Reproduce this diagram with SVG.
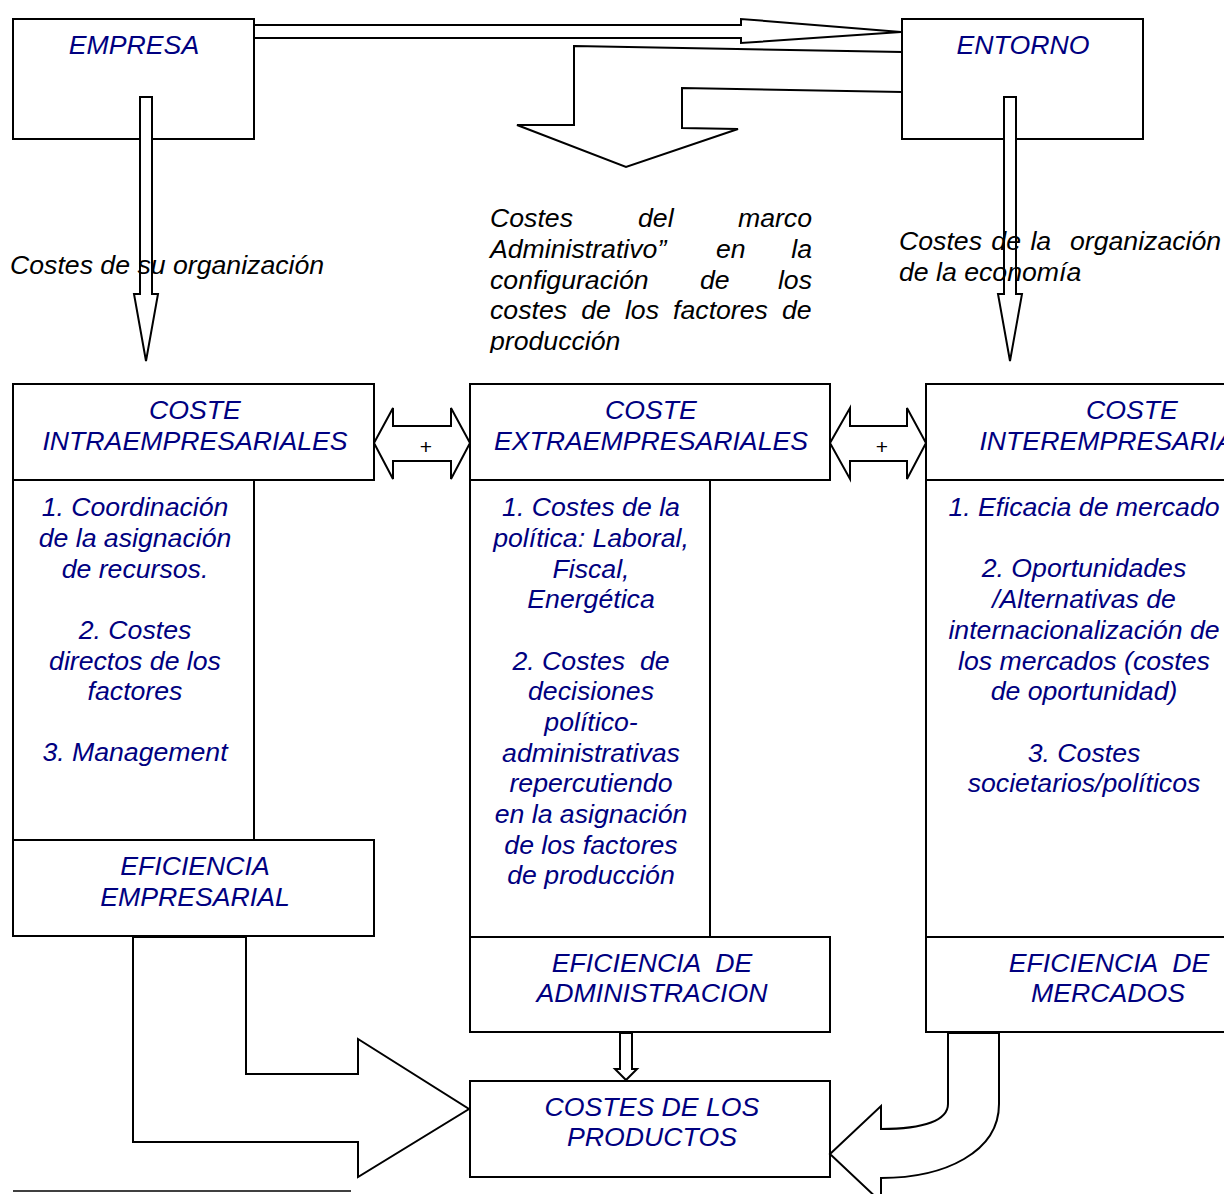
<svg xmlns="http://www.w3.org/2000/svg" width="1224" height="1194" viewBox="0 0 1224 1194">
<style>
.box{fill:#fff;stroke:#000;stroke-width:2}
.ln{fill:none;stroke:#000;stroke-width:2}
.arr{fill:#fff;stroke:#000;stroke-width:2;stroke-linejoin:miter}
.t{font-family:"Liberation Sans",Arial,sans-serif;font-style:italic;font-size:26.67px;fill:#000080;text-anchor:middle}
.k{font-family:"Liberation Sans",Arial,sans-serif;font-style:italic;font-size:26.67px;fill:#000}
.p{font-family:"Liberation Sans",Arial,sans-serif;font-size:21px;fill:#000;text-anchor:middle}
</style>
<defs>
<clipPath id="cl"><rect x="0" y="0" width="1224" height="353"/></clipPath>
</defs>
<rect width="1224" height="1194" fill="#fff"/>

<g id="empresa"><rect class="box" x="13" y="19" width="241" height="120"/></g>
<g id="entorno"><rect class="box" x="902" y="19" width="241" height="120"/></g>

<g id="coste-intra">
<rect class="box" x="13" y="384" width="361" height="96"/>
<polyline class="ln" points="13,480 13,840 254,840 254,480"/>
</g>
<g id="eficiencia-empresarial"><rect class="box" x="13" y="840" width="361" height="96"/></g>

<g id="coste-extra">
<rect class="box" x="470" y="384" width="360" height="96"/>
<polyline class="ln" points="470,480 470,937 710,937 710,480"/>
</g>
<g id="eficiencia-admin"><rect class="box" x="470" y="937" width="360" height="95"/></g>

<g id="coste-inter">
<rect class="box" x="926" y="384" width="420" height="96"/>
<polyline class="ln" points="926,480 926,937 1346,937"/>
</g>
<g id="eficiencia-mercados"><rect class="box" x="926" y="937" width="420" height="95"/></g>

<g id="costes-productos"><rect class="box" x="470" y="1081" width="360" height="96"/></g>

<g id="connectors">
<polygon class="arr" points="254,25 741,25 741,19 901,32 741,43 741,38 254,38"/>
<polygon class="arr" points="574,46 902,52 902,92 682,88 682,128 738,129 626,167 517,125 574,125"/>
<polygon class="arr" points="140,97 152,97 152,294 158,294 146,361 134,294 140,294"/>
<polygon class="arr" points="1004,97 1016,97 1016,294 1022,294 1010,361 998,294 1004,294"/>
<polygon class="arr" points="374,443 393,408 393,426 451,426 451,408 470,443 451,479 451,461 393,461 393,479"/>
<polygon class="arr" points="830,443 850,408 850,426 907,426 907,408 926,443 907,479 907,461 850,461 850,479"/>
<polygon class="arr" points="133,937 246,937 246,1074 358,1074 358,1039 469,1109 358,1177 358,1142 133,1142"/>
<polygon class="arr" points="620,1033 632,1033 632,1069 637,1069 626,1080 615,1069 620,1069"/>
<path class="arr" d="M948,1033 V1104 C948,1120 925,1129 881,1129 V1106 L830,1154 L881,1202 V1178 C945,1178 999,1152 999,1104 V1033 Z"/>
<text class="p" x="426" y="454">+</text>
<text class="p" x="882" y="454">+</text>
</g>

<g id="labels">
<text class="t" x="134" y="54">EMPRESA</text>
<text class="t" x="1023" y="54">ENTORNO</text>

<text class="k" x="10" y="274">Costes de su organización</text>
<text class="k" x="899" y="250" xml:space="preserve" word-spacing="2">Costes de la  organización</text>
<text class="k" x="899" y="281">de la economía</text>

<g clip-path="url(#cl)">
<text class="k" x="490" y="227">Costes</text>
<text class="k" x="638" y="227">del</text>
<text class="k" x="812" y="227" text-anchor="end">marco</text>
<text class="k" x="490" y="258">Administrativo”</text>
<text class="k" x="716" y="258">en</text>
<text class="k" x="812" y="258" text-anchor="end">la</text>
<text class="k" x="490" y="289">configuración</text>
<text class="k" x="700" y="289">de</text>
<text class="k" x="812" y="289" text-anchor="end">los</text>
<text class="k" x="490" y="319" word-spacing="6.7">costes de los factores de</text>
<text class="k" x="490" y="350">producción</text>
</g>

<text class="t" x="195" y="419">COSTE</text>
<text class="t" x="195" y="450">INTRAEMPRESARIALES</text>
<text class="t" x="135" y="516">1. Coordinación</text>
<text class="t" x="135" y="547">de la asignación</text>
<text class="t" x="135" y="578">de recursos.</text>
<text class="t" x="135" y="639">2. Costes</text>
<text class="t" x="135" y="670">directos de los</text>
<text class="t" x="135" y="700">factores</text>
<text class="t" x="135" y="761">3. Management</text>
<text class="t" x="195" y="875">EFICIENCIA</text>
<text class="t" x="195" y="906">EMPRESARIAL</text>

<text class="t" x="651" y="419">COSTE</text>
<text class="t" x="651" y="450">EXTRAEMPRESARIALES</text>
<text class="t" x="591" y="516">1. Costes de la</text>
<text class="t" x="591" y="547">política: Laboral,</text>
<text class="t" x="591" y="578">Fiscal,</text>
<text class="t" x="591" y="608">Energética</text>
<text class="t" x="591" y="670" xml:space="preserve">2. Costes  de</text>
<text class="t" x="591" y="700">decisiones</text>
<text class="t" x="591" y="731">político-</text>
<text class="t" x="591" y="762">administrativas</text>
<text class="t" x="591" y="792">repercutiendo</text>
<text class="t" x="591" y="823">en la asignación</text>
<text class="t" x="591" y="854">de los factores</text>
<text class="t" x="591" y="884">de producción</text>
<text class="t" x="652" y="972" xml:space="preserve">EFICIENCIA  DE</text>
<text class="t" x="652" y="1002">ADMINISTRACION</text>

<text class="t" x="1132" y="419">COSTE</text>
<text class="t" x="1132" y="450">INTEREMPRESARIALES</text>
<text class="t" x="1084" y="516">1. Eficacia de mercado</text>
<text class="t" x="1084" y="577">2. Oportunidades</text>
<text class="t" x="1084" y="608">/Alternativas de</text>
<text class="t" x="1084" y="639">internacionalización de</text>
<text class="t" x="1084" y="670">los mercados (costes</text>
<text class="t" x="1084" y="700">de oportunidad)</text>
<text class="t" x="1084" y="762">3. Costes</text>
<text class="t" x="1084" y="792">societarios/políticos</text>
<text class="t" x="1109" y="972" xml:space="preserve">EFICIENCIA  DE</text>
<text class="t" x="1108" y="1002">MERCADOS</text>

<text class="t" x="652" y="1116">COSTES DE LOS</text>
<text class="t" x="652" y="1146">PRODUCTOS</text>
</g>

<line x1="13" y1="1191" x2="351" y2="1191" stroke="#000" stroke-width="1.5"/>
</svg>
